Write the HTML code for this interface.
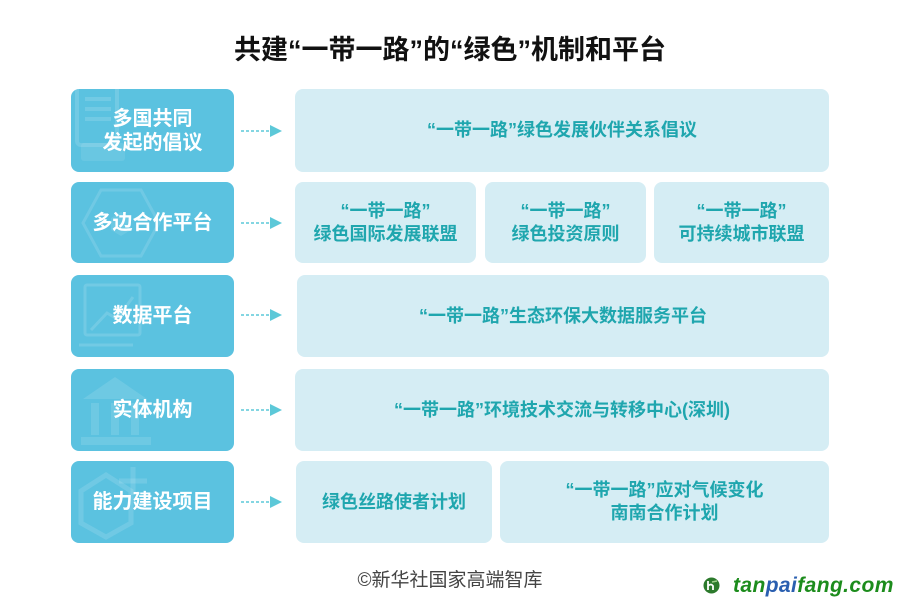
<!DOCTYPE html>
<html>
<head>
<meta charset="utf-8">
<style>
  html,body{margin:0;padding:0;background:#fff;}
  body{width:900px;height:607px;position:relative;overflow:hidden;font-family:"Liberation Sans","Noto Sans CJK SC",sans-serif;}
  .title{position:absolute;left:0;width:900px;top:30px;text-align:center;font-size:27px;font-weight:bold;color:#111;line-height:40px;}
  .l{position:absolute;left:71px;width:163px;background:#5bc2e0;border-radius:8px;color:#fff;font-weight:bold;font-size:20px;line-height:24px;display:flex;align-items:center;justify-content:center;text-align:center;overflow:hidden;}
  .l span{position:relative;z-index:2;}
  .l svg{position:absolute;left:0;top:0;z-index:1;}
  .r{position:absolute;background:#d5edf4;border-radius:8px;color:#1fa6ae;font-weight:bold;font-size:18px;line-height:23px;display:flex;align-items:center;justify-content:center;text-align:center;}
  .arr{position:absolute;left:241px;width:44px;height:14px;}
  .foot{position:absolute;left:0;width:900px;top:568px;text-align:center;font-size:19px;color:#444;line-height:26px;}
  .logo{position:absolute;left:733px;top:573px;font-size:21px;font-weight:bold;font-style:italic;color:#1c8c1c;line-height:26px;letter-spacing:0.4px;}
  .logo b{color:#2a5fb0;}
</style>
</head>
<body>
<div class="title">共建“一带一路”的“绿色”机制和平台</div>

<!-- Row 1 -->
<div class="l" style="top:89px;height:83px;">
  <svg width="163" height="83"><g fill="none" stroke="#fff" stroke-opacity="0.14" stroke-width="4"><rect x="6" y="-4" width="40" height="60" rx="4"/><line x1="14" y1="10" x2="40" y2="10"/><line x1="14" y1="20" x2="40" y2="20"/><line x1="14" y1="30" x2="40" y2="30"/></g><rect x="10" y="54" width="44" height="18" rx="3" fill="#fff" fill-opacity="0.09"/></svg>
  <span>多国共同<br>发起的倡议</span>
</div>
<svg class="arr" style="top:124px;"><line x1="0" y1="7" x2="30" y2="7" stroke="#5cc8d8" stroke-width="1.5" stroke-dasharray="3,2"/><polygon points="29,1 41,7 29,13" fill="#5cc8d8"/></svg>
<div class="r" style="left:295px;top:89px;width:534px;height:83px;">“一带一路”绿色发展伙伴关系倡议</div>

<!-- Row 2 -->
<div class="l" style="top:182px;height:81px;">
  <svg width="163" height="81"><polygon points="12,41 30,8 70,8 88,41 70,74 30,74" fill="none" stroke="#fff" stroke-opacity="0.13" stroke-width="3"/><polygon points="40,36 50,30 60,36 60,48 50,54 40,48" fill="#fff" fill-opacity="0.1"/></svg>
  <span>多边合作平台</span>
</div>
<svg class="arr" style="top:216px;"><line x1="0" y1="7" x2="30" y2="7" stroke="#5cc8d8" stroke-width="1.5" stroke-dasharray="3,2"/><polygon points="29,1 41,7 29,13" fill="#5cc8d8"/></svg>
<div class="r" style="left:295px;top:182px;width:181px;height:81px;">“一带一路”<br>绿色国际发展联盟</div>
<div class="r" style="left:485px;top:182px;width:161px;height:81px;">“一带一路”<br>绿色投资原则</div>
<div class="r" style="left:654px;top:182px;width:175px;height:81px;">“一带一路”<br>可持续城市联盟</div>

<!-- Row 3 -->
<div class="l" style="top:275px;height:82px;">
  <svg width="163" height="82"><g fill="none" stroke="#fff" stroke-opacity="0.14" stroke-width="3"><rect x="14" y="10" width="55" height="50" rx="2"/><polyline points="20,55 36,38 46,44 62,22"/><line x1="8" y1="70" x2="62" y2="70"/></g></svg>
  <span>数据平台</span>
</div>
<svg class="arr" style="top:308px;"><line x1="0" y1="7" x2="30" y2="7" stroke="#5cc8d8" stroke-width="1.5" stroke-dasharray="3,2"/><polygon points="29,1 41,7 29,13" fill="#5cc8d8"/></svg>
<div class="r" style="left:297px;top:275px;width:532px;height:82px;">“一带一路”生态环保大数据服务平台</div>

<!-- Row 4 -->
<div class="l" style="top:369px;height:82px;">
  <svg width="163" height="82"><g fill="#fff" fill-opacity="0.12"><polygon points="12,30 44,8 76,30"/><rect x="20" y="34" width="8" height="32"/><rect x="40" y="34" width="8" height="32"/><rect x="60" y="34" width="8" height="32"/><rect x="10" y="68" width="70" height="8"/></g></svg>
  <span>实体机构</span>
</div>
<svg class="arr" style="top:403px;"><line x1="0" y1="7" x2="30" y2="7" stroke="#5cc8d8" stroke-width="1.5" stroke-dasharray="3,2"/><polygon points="29,1 41,7 29,13" fill="#5cc8d8"/></svg>
<div class="r" style="left:295px;top:369px;width:534px;height:82px;">“一带一路”环境技术交流与转移中心(深圳)</div>

<!-- Row 5 -->
<div class="l" style="top:461px;height:82px;">
  <svg width="163" height="82"><g fill="none" stroke="#fff" stroke-opacity="0.13" stroke-width="5"><polygon points="10,30 35,14 60,30 60,62 35,76 10,62"/><line x1="62" y1="6" x2="62" y2="34"/><line x1="48" y1="20" x2="76" y2="20"/></g></svg>
  <span>能力建设项目</span>
</div>
<svg class="arr" style="top:495px;"><line x1="0" y1="7" x2="30" y2="7" stroke="#5cc8d8" stroke-width="1.5" stroke-dasharray="3,2"/><polygon points="29,1 41,7 29,13" fill="#5cc8d8"/></svg>
<div class="r" style="left:296px;top:461px;width:196px;height:82px;">绿色丝路使者计划</div>
<div class="r" style="left:500px;top:461px;width:329px;height:82px;">“一带一路”应对气候变化<br>南南合作计划</div>

<div class="foot">©新华社国家高端智库</div>

<svg style="position:absolute;left:703px;top:577px;" width="17" height="17"><circle cx="8.5" cy="8.5" r="8" fill="#2c7a2c"/><path d="M5 4 L5 13 M5 9 Q8 6 10 9 L10 13" stroke="#fff" stroke-width="1.8" fill="none"/><path d="M9 5 L14 4" stroke="#9fd08a" stroke-width="1.5"/></svg>
<div class="logo">tan<b>pai</b>fang.com</div>
</body>
</html>
